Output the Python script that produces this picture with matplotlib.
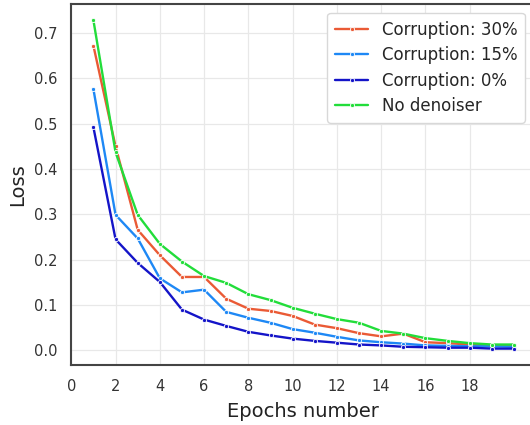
import numpy as np
import matplotlib
matplotlib.use("Agg")
import matplotlib.pyplot as plt
import seaborn as sns

# epochs and loss curves
epochs = np.arange(1, 21)
loss_30 = [0.672, 0.450, 0.266, 0.210, 0.162, 0.162, 0.114, 0.092, 0.087, 0.076,
           0.057, 0.049, 0.038, 0.031, 0.037, 0.018, 0.016, 0.013, 0.011, 0.011]
loss_15 = [0.576, 0.299, 0.247, 0.159, 0.128, 0.134, 0.085, 0.072, 0.061, 0.047,
           0.039, 0.030, 0.022, 0.018, 0.015, 0.011, 0.010, 0.009, 0.009, 0.008]
loss_0 = [0.492, 0.245, 0.193, 0.151, 0.090, 0.068, 0.054, 0.041, 0.033, 0.026,
          0.021, 0.017, 0.013, 0.011, 0.008, 0.007, 0.006, 0.006, 0.004, 0.004]
loss_none = [0.728, 0.437, 0.299, 0.235, 0.196, 0.164, 0.149, 0.124, 0.111, 0.094,
             0.081, 0.069, 0.061, 0.043, 0.037, 0.027, 0.021, 0.016, 0.013, 0.013]

labels = ["Corruption: 30%", "Corruption: 15%", "Corruption: 0%", "No denoiser"]
colors = ["#ea5a35", "#1e88f5", "#1414c8", "#22dd3a"]
xticks = list(range(0, 20, 2))

sns.set_style("whitegrid")
plt.rcParams["font.family"] = ["DejaVu Sans"]

fig = plt.figure(figsize=(5.3, 4.25), dpi=100)
# axes runs past the right edge, like the cropped original
ax = fig.add_axes([71.3 / 530, 60 / 425, (535 - 71.3) / 530, (365 - 4) / 425])

for ys, lab, col in zip([loss_30, loss_15, loss_0, loss_none], labels, colors):
    ax.plot(epochs, ys, color=col, label=lab, linewidth=1.7,
            marker=".", markersize=6, markeredgecolor="white", markeredgewidth=0.6)

ax.set_xlim(left=0)
ax.set_xticks(xticks)
ax.tick_params(axis="both", labelsize=10.5, colors="#333333", length=0, pad=10)
ax.set_xlabel("Epochs number", fontsize=14, color="#222222", labelpad=6)
ax.set_ylabel("Loss", fontsize=14, color="#222222", labelpad=5)

for side in ["left", "bottom", "top", "right"]:
    ax.spines[side].set_color("#444444")
    ax.spines[side].set_linewidth(1.5)
ax.grid(color="#e8e8e8", linewidth=0.9)

ax.legend(loc="upper right", bbox_to_anchor=((533 - 71.3) / (535 - 71.3), 0.998),
          fontsize=12, frameon=True, framealpha=1, edgecolor="#d8d8d8",
          handlelength=2.0, borderpad=0.45, labelspacing=0.45)

fig.savefig("out.png", dpi=100)
